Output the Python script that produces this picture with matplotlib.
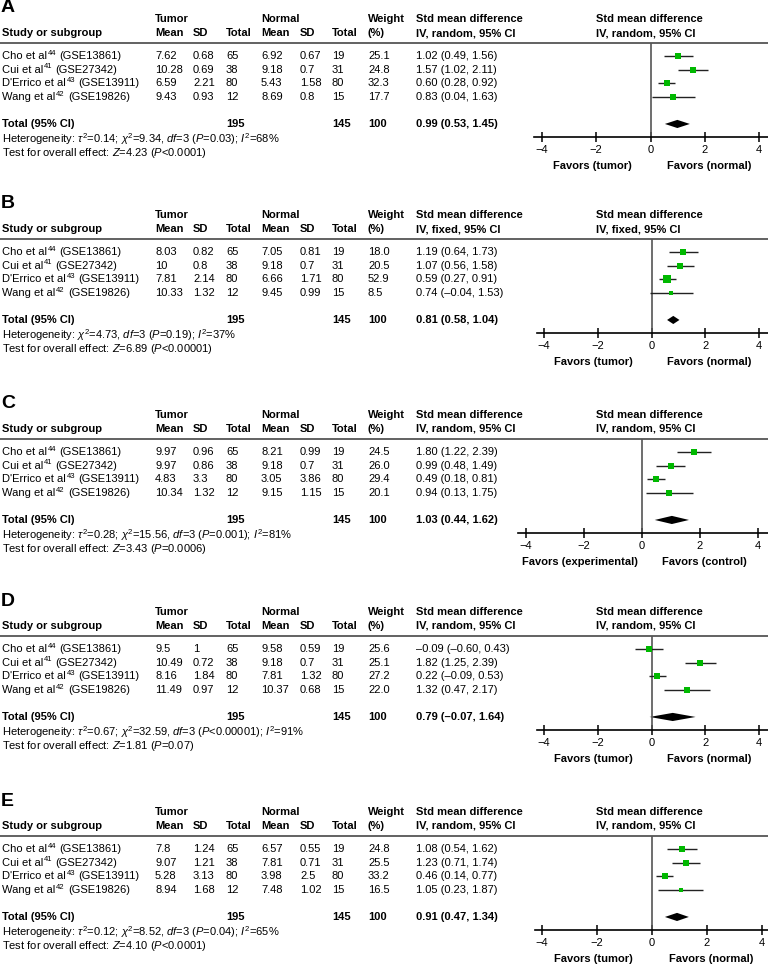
import numpy as np
import matplotlib
matplotlib.use("Agg")
import matplotlib.pyplot as plt
from matplotlib.lines import Line2D

plt.rcParams['font.family'] = ['Liberation Sans', 'DejaVu Sans']
plt.rcParams['mathtext.fontset'] = 'custom'
plt.rcParams['mathtext.rm'] = 'Liberation Sans'
plt.rcParams['mathtext.it'] = 'Liberation Sans:italic'
plt.rcParams['mathtext.bf'] = 'Liberation Sans:bold'

# -------------------------------
# DATA (one entry per panel A-E)
# -------------------------------
panels = ["A", "B", "C", "D", "E"]
study_names = ["Cho et al", "Cui et al", "D'Errico et al", "Wang et al"]
study_refs = ["44", "41", "43", "42"]
study_gse = ["GSE13861", "GSE27342", "GSE13911", "GSE19826"]
n_tumor = [65, 38, 80, 12]
n_normal = [19, 31, 80, 15]
total_tumor = 195
total_normal = 145

tumor_mean = [[7.62, 10.28, 6.59, 9.43], [8.03, 10, 7.81, 10.33], [9.97, 9.97, 4.83, 10.34],
              [9.5, 10.49, 8.16, 11.49], [7.8, 9.07, 5.28, 8.94]]
tumor_sd = [[0.68, 0.69, 2.21, 0.93], [0.82, 0.8, 2.14, 1.32], [0.96, 0.86, 3.3, 1.32],
            [1, 0.72, 1.84, 0.97], [1.24, 1.21, 3.13, 1.68]]
normal_mean = [[6.92, 9.18, 5.43, 8.69], [7.05, 9.18, 6.66, 9.45], [8.21, 9.18, 3.05, 9.15],
               [9.58, 9.18, 7.81, 10.37], [6.57, 7.81, 3.98, 7.48]]
normal_sd = [[0.67, 0.7, 1.58, 0.8], [0.81, 0.7, 1.71, 0.99], [0.99, 0.7, 3.86, 1.15],
             [0.59, 0.7, 1.32, 0.68], [0.55, 0.71, 2.5, 1.02]]
weight = [[25.1, 24.8, 32.3, 17.7], [18.0, 20.5, 52.9, 8.5], [24.5, 26.0, 29.4, 20.1],
          [25.6, 25.1, 27.2, 22.0], [24.8, 25.5, 33.2, 16.5]]
smd = [[1.02, 1.57, 0.60, 0.83], [1.19, 1.07, 0.59, 0.74], [1.80, 0.99, 0.49, 0.94],
       [-0.09, 1.82, 0.22, 1.32], [1.08, 1.23, 0.46, 1.05]]
ci_lo = [[0.49, 1.02, 0.28, 0.04], [0.64, 0.56, 0.27, -0.04], [1.22, 0.48, 0.18, 0.13],
         [-0.60, 1.25, -0.09, 0.47], [0.54, 0.71, 0.14, 0.23]]
ci_hi = [[1.56, 2.11, 0.92, 1.63], [1.73, 1.58, 0.91, 1.53], [2.39, 1.49, 0.81, 1.75],
         [0.43, 2.39, 0.53, 2.17], [1.62, 1.74, 0.77, 1.87]]

pooled = [0.99, 0.81, 1.03, 0.79, 0.91]
pooled_lo = [0.53, 0.58, 0.44, -0.07, 0.47]
pooled_hi = [1.45, 1.04, 1.62, 1.64, 1.34]

method = ["IV, random, 95% CI", "IV, fixed, 95% CI", "IV, random, 95% CI",
          "IV, random, 95% CI", "IV, random, 95% CI"]
tau2 = ["0.14", None, "0.28", "0.67", "0.12"]
chi2 = ["9.34", "4.73", "15.56", "32.59", "8.52"]
het_p = ["=0.03", "=0.19", "=0.001", "<0.00001", "=0.04"]
i2 = ["68", "37", "81", "91", "65"]
z_val = ["4.23", "6.89", "3.43", "1.81", "4.10"]
z_p = ["<0.0001", "<0.00001", "=0.0006", "=0.07", "<0.0001"]
favors_left = ["Favors (tumor)", "Favors (tumor)", "Favors (experimental)",
               "Favors (tumor)", "Favors (tumor)"]
favors_right = ["Favors (normal)", "Favors (normal)", "Favors (control)",
                "Favors (normal)", "Favors (normal)"]

# -------------------------------
# LAYOUT (pixels)
# -------------------------------
W, H = 768, 968
panel_top = [7, 203, 403, 600, 800]
# pixel x of -4 and +4 on each forest axis, and left end of the axis line
px_m4 = [542, 544, 526, 544, 542]
px_p4 = [759, 759, 758, 759, 762]
px_axis_left = [534, 537, 518, 537, 535]

col_x = {"study": 2, "tm": 155, "tsd": 193, "tn": 226, "nm": 261, "nsd": 300,
         "nn": 332, "w": 368, "smd": 416, "plot": 596}
FS = 8
GREEN = "#00b800"
LINE_GRAY = "#555555"

fig = plt.figure(figsize=(W / 100, H / 100), dpi=100)
overlay = fig.add_axes([0, 0, 1, 1])
overlay.axis("off")


def put(x, y, s, bold=False, size=FS, **kw):
    return fig.text(x / W, 1 - y / H, s, fontsize=size,
                    fontweight="bold" if bold else "normal",
                    va="center", ha=kw.pop("ha", "left"), **kw)


def fmt(v):
    return f"{v:.2f}".replace("-", "\u2013")


for p in range(5):
    b = panel_top[p]
    y_h1, y_h2, y_line = b + 12, b + 26, b + 36
    row_y = [b + 49 + 13.6 * i for i in range(4)]
    y_tot, y_het, y_test, y_axis = b + 117, b + 131, b + 145, b + 130

    put(1, b + 1, panels[p], bold=True, size=14)

    # column headers
    put(col_x["tm"], y_h1, "Tumor", bold=True)
    put(col_x["nm"], y_h1, "Normal", bold=True)
    put(col_x["w"], y_h1, "Weight", bold=True)
    put(col_x["smd"], y_h1, "Std mean difference", bold=True)
    put(col_x["plot"], y_h1, "Std mean difference", bold=True)
    put(col_x["study"], y_h2, "Study or subgroup", bold=True)
    for key, lab in [("tm", "Mean"), ("tsd", "SD"), ("tn", "Total"), ("nm", "Mean"),
                     ("nsd", "SD"), ("nn", "Total"), ("w", "(%)")]:
        put(col_x[key], y_h2, lab, bold=True)
    put(col_x["smd"], y_h2, method[p], bold=True)
    put(col_x["plot"], y_h2, method[p], bold=True)
    fig.add_artist(Line2D([0, 1], [1 - y_line / H] * 2, color=LINE_GRAY, lw=1.3,
                          transform=fig.transFigure))

    # study rows
    for i in range(4):
        y = row_y[i]
        t1 = put(col_x["study"], y, study_names[i])
        t2 = overlay.annotate(study_refs[i], xy=(1.02, 0.42), xycoords=t1, fontsize=5.5,
                              va="bottom", ha="left")
        overlay.annotate("(" + study_gse[i] + ")", xy=(1, 0), xycoords=(t2, t1),
                         xytext=(2.2, 0), textcoords="offset points",
                         fontsize=FS, va="bottom", ha="left")
        put(col_x["tm"], y, f"{tumor_mean[p][i]:g}")
        put(col_x["tsd"], y, f"{tumor_sd[p][i]:g}")
        put(col_x["tn"], y, str(n_tumor[i]))
        put(col_x["nm"], y, f"{normal_mean[p][i]:g}")
        put(col_x["nsd"], y, f"{normal_sd[p][i]:g}")
        put(col_x["nn"], y, str(n_normal[i]))
        put(col_x["w"], y, f"{weight[p][i]:.1f}")
        put(col_x["smd"], y, f"{fmt(smd[p][i])} ({fmt(ci_lo[p][i])}, {fmt(ci_hi[p][i])})")

    # totals
    put(col_x["study"], y_tot, "Total (95% CI)", bold=True)
    put(col_x["tn"], y_tot, str(total_tumor), bold=True)
    put(col_x["nn"], y_tot, str(total_normal), bold=True)
    put(col_x["w"], y_tot, "100", bold=True)
    put(col_x["smd"], y_tot, f"{fmt(pooled[p])} ({fmt(pooled_lo[p])}, {fmt(pooled_hi[p])})",
        bold=True)

    het = "Heterogeneity: "
    if tau2[p] is not None:
        het += r"$\tau^2$=" + tau2[p] + "; "
    het += r"$\chi^2$=" + chi2[p] + r", $df$=3 ($P$" + het_p[p] + r"); $I^2$=" + i2[p] + "%"
    put(col_x["study"], y_het + 1, het)
    put(col_x["study"], y_test + 1, r"Test for overall effect: $Z$=" + z_val[p] + r" ($P$" + z_p[p] + ")")

    # forest plot
    scale = (px_p4[p] - px_m4[p]) / 8.0
    x0 = -4 - (px_m4[p] - px_axis_left[p]) / scale
    x1 = 4 + (W - px_p4[p]) / scale
    ax = fig.add_axes([px_axis_left[p] / W, 1 - y_axis / H, (W - px_axis_left[p]) / W,
                       (y_axis - y_line) / H])
    ax.set_xlim(x0, x1)
    ax.set_ylim(5.96, -0.96)
    ax.patch.set_alpha(0)
    for s in ["top", "left", "right"]:
        ax.spines[s].set_visible(False)
    ax.spines["bottom"].set_linewidth(1.2)
    ax.set_yticks([])
    ax.set_xticks([-4, -2, 0, 2, 4])
    ax.tick_params(axis="x", direction="inout", length=7, width=1.1, labelsize=FS, pad=2)
    ax.axvline(0, color=LINE_GRAY, lw=1.2)

    rows = np.arange(4)
    ax.hlines(rows, ci_lo[p], ci_hi[p], color="#222222", lw=1.0)
    for i in range(4):
        side_px = 1.2 * np.sqrt(weight[p][i])
        ax.plot(smd[p][i], rows[i], marker="s", color=GREEN, markersize=side_px * 0.72,
                markeredgewidth=0, linestyle="none")
    dy = 0.3
    ax.fill([pooled_lo[p], pooled[p], pooled_hi[p], pooled[p]], [5, 5 - dy, 5, 5 + dy],
            color="black", lw=0)

    y_fav = (159 - 49) / 13.6
    ax.text(-2.15, y_fav, favors_left[p], fontsize=FS, fontweight="bold", ha="center",
            va="center", clip_on=False)
    ax.text(2.15, y_fav, favors_right[p], fontsize=FS, fontweight="bold", ha="center",
            va="center", clip_on=False)

fig.savefig("out.png", dpi=100)
